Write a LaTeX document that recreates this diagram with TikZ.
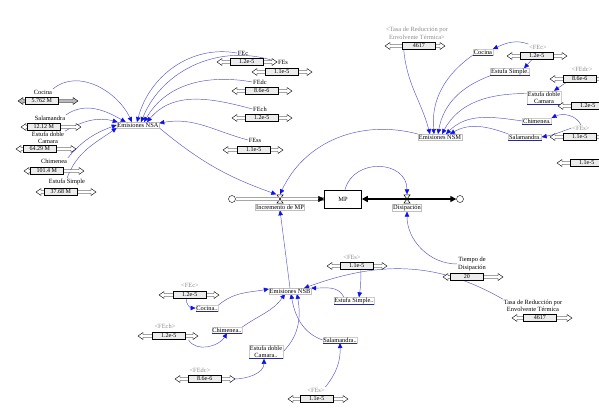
\documentclass[tikz,border=0pt]{standalone}
\usepackage{fontspec}
\setmainfont{Liberation Serif}
\usetikzlibrary{arrows.meta,positioning,backgrounds}
\definecolor{vlink}{RGB}{84,84,204}
\definecolor{vhead}{RGB}{16,16,232}
\definecolor{uline}{RGB}{40,40,150}
\definecolor{shadowgray}{RGB}{140,140,140}

% slider: [track fill]{name}{x}{y}{box offset}{value}
\newcommand{\vslider}[6][white]{%
  \begin{scope}[shift={(#3,#4)}]
    \draw[fill=#1,line width=0.4pt] (0,0) -- (5,3.5) -- (5,1.5) -- (55,1.5) -- (55,3.5)
      -- (60,0) -- (55,-3.5) -- (55,-1.5) -- (5,-1.5) -- (5,-3.5) -- cycle;
    \node[valbox,anchor=west] (#2) at (#5,0) {#6};
  \end{scope}}

\begin{document}
\begin{tikzpicture}[x=1pt,y=1pt,
    vfont/.style={font=\fontsize{6.4}{7.4}\selectfont},
    var/.style={vfont,inner sep=0.6pt,align=center},
    aux/.style={var,draw=gray!50,line width=0.3pt},
    svar/.style={var,draw=gray!40,line width=0.3pt,
      append after command={(\tikzlastnode.south west)
        edge[draw=uline,line width=0.7pt] (\tikzlastnode.south east)}},
    shadowv/.style={var,text=shadowgray},
    valbox/.style={font=\fontsize{6}{6}\selectfont,draw,fill=gray!15,line width=0.5pt,
      minimum width=33pt,minimum height=7pt,inner sep=0pt},
    link/.style={draw=vlink,line width=0.45pt,
      -{Triangle[length=5pt,width=4.5pt,color=vhead]}},
    pipe/.style={draw=gray!70,line width=0.5pt},
    outpipe/.style={line width=1.3pt,
      {Triangle[length=6pt,width=6pt]}-{Triangle[length=6pt,width=6pt]}},
    flowhead/.style={-{Triangle[length=6pt,width=6pt]},line width=0.4pt},
    cloudv/.style={circle,draw,minimum size=7pt,inner sep=0pt,line width=0.4pt},
    valve/.style={minimum width=7pt,minimum height=9pt,inner sep=0pt,
      path picture={\draw[line width=0.5pt]
        ([shift={(0.3pt,-0.3pt)}]path picture bounding box.north west)
        -- ([shift={(-0.3pt,-0.3pt)}]path picture bounding box.north east)
        -- ([shift={(0.3pt,0.3pt)}]path picture bounding box.south west)
        -- ([shift={(-0.3pt,0.3pt)}]path picture bounding box.south east) -- cycle;}},
    stock/.style={draw,vfont,minimum width=37pt,minimum height=18pt,line width=0.5pt}
  ]
  \useasboundingbox (0,0) rectangle (599,-418);
  \clip (0,0) rectangle (599,-418);

  % stock and flows
  \node[stock] (mp) at (343,-199) {MP};
  \node[cloudv] (srcL) at (232,-199) {};
  \node[cloudv] (sinkR) at (460,-199) {};
  \node[valve] (incv) at (280,-199) {};
  \node[valve] (disv) at (407,-199) {};
  \node[aux,below=0.6pt of incv] (incl) {Incremento de MP};
  \node[aux,below=0.6pt of disv] (disl) {Disipación};
  \draw[pipe] ([yshift=1.3]srcL.east) -- ([yshift=1.3]mp.west);
  \draw[pipe] ([yshift=-1.3]srcL.east) -- ([yshift=-1.3]mp.west);
  \draw[flowhead] ([xshift=-6]mp.west) -- (mp.west);

  % NSA
  \node[aux] (nsa) at (138,-125) {Emisiones NSA};
  \node[var] (cocA) at (43,-92) {Cocina};
  \vslider[gray!55]{cocAs}{18}{-101}{7}{5.762 M}
  \node[var] (salA) at (50,-118) {Salamandra};
  \vslider{salAs}{21}{-127}{6}{12.12 M}
  \node[var] (edbA) at (48,-138) {Estufa doble\\Camara};
  \vslider{edbAs}{16}{-149}{7}{64.29 M}
  \node[var] (chiA) at (54,-161) {Chimenea};
  \vslider{chiAs}{24}{-171}{6}{101.4 M}
  \node[var] (esiA) at (67,-182) {Estufa Simple};
  \vslider{esiAs}{36}{-192}{8}{37.68 M}
  \node[var] (fecA) at (243,-53) {FEc};
  \vslider{fecAs}{217}{-62}{13}{1.2e-5}
  \node[var] (fesA) at (283,-62) {FEs};
  \vslider{fesAs}{252}{-72}{13}{1.1e-5}
  \node[var] (fedA) at (260,-82) {FEdc};
  \vslider{fedAs}{232}{-91}{13}{8.6e-6}
  \node[var] (fehA) at (260,-109) {FEch};
  \vslider{fehAs}{232}{-118}{13}{1.2e-5}
  \node[var] (fessA) at (255,-140) {FEss};
  \vslider{fessAs}{223}{-150}{14}{1.1e-5}

  % NSM
  \node[aux] (nsm) at (440,-137) {Emisiones NSM};
  \node[shadowv] (tasaMl) at (417,-33.5) {<Tasa de Reducción por\\Envolvente Térmica>};
  \vslider{tasaMs}{385}{-46}{17}{4617}
  \node[svar] (cocM) at (483,-52) {Cocina};
  \node[shadowv] (fecMl) at (538,-47) {<FEc>};
  \vslider{fecMs}{507}{-56}{13}{1.2e-5}
  \node[svar] (esiM) at (510,-72) {Estufa Simple.};
  \node[shadowv] (f2Ml) at (582,-69) {<FEdc>};
  \vslider{f2Ms}{550}{-79}{13}{8.6e-6}
  \node[svar] (edbM) at (544,-97.5) {Estufa doble\\Camara};
  \vslider{f3Ms}{558}{-106}{13}{1.2e-5}
  \node[svar] (chiM) at (537,-121) {Chimenea.};
  \node[shadowv] (f4Ml) at (581,-128) {<FEs>};
  \vslider{f4Ms}{550}{-137}{13}{1.1e-5}
  \node[svar] (salM) at (525,-137) {Salamandra.};
  \vslider{f5Ms}{557}{-163}{13}{1.1e-5}

  % NSB
  \node[aux] (nsb) at (290,-291) {Emisiones NSB};
  \node[shadowv] (fecBl) at (190,-285) {<FEc>};
  \vslider{fecBs}{159}{-295}{14}{1.2e-5}
  \node[svar] (cocB) at (207,-308) {Cocina..};
  \node[shadowv] (fehBl) at (165,-326) {<FEch>};
  \vslider{fehBs}{138}{-336}{14}{1.2e-5}
  \node[svar] (chiB) at (227,-330) {Chimenea..};
  \node[svar] (edbB) at (266,-352) {Estufa doble\\Camara..};
  \node[shadowv] (fedBl) at (200,-370) {<FEdc>};
  \vslider{fedBs}{175}{-379}{13}{8.6e-6}
  \node[svar] (salB) at (340,-340) {Salamandra..};
  \node[shadowv] (fesBl) at (316,-390) {<FEs>};
  \vslider{fesBs}{288}{-399}{12}{1.1e-5}
  \node[shadowv] (fesTl) at (352,-257) {<FEs>};
  \vslider{fesTs}{327}{-266}{13}{1.1e-5}
  \node[svar] (esiB) at (354,-301) {Estufa Simple..};
  \node[var] (tiem) at (472,-264) {Tiempo de\\Disipación};
  \vslider{tiems}{443}{-277}{7}{20}
  \node[var] (tasaB) at (533,-306) {Tasa de Reducción por\\Envolvente Térmica};
  \vslider{tasaBs}{512}{-318}{11}{4617}

  \begin{scope}[on background layer]
    % outflow pipe and MP loop
    \draw[outpipe] (mp.east) -- (sinkR);
    \draw[link] ([xshift=2]mp.north) to[out=75,in=90,looseness=1.4] (disv.north);
    \draw[link] (tiem.west) to[out=180,in=-90] (disl.south);

    % into Emisiones NSA
    \draw[link] (cocA.north east) to[out=40,in=115] ([xshift=-6]nsa.north);
    \draw[link] (salA.north east) to[out=35,in=150] ([xshift=9]nsa.north west);
    \draw[link] (edbA.north east) to[out=30,in=165] ([xshift=1]nsa.north west);
    \draw[link] (chiA.north east) to[out=50,in=200] (nsa.west);
    \draw[link] (esiA.north) to[out=70,in=215] (nsa.south west);
    \draw[link] (fecA.west) to[out=170,in=75] ([xshift=-1]nsa.north);
    \draw[link] (fesA.west) to[out=160,in=68] ([xshift=3]nsa.north);
    \draw[link] (fedA.west) to[out=170,in=60] ([xshift=6]nsa.north);
    \draw[link] (fehA.west) to[out=165,in=50] ([xshift=9]nsa.north);
    \draw[link] (fessA.west) to[out=165,in=10] ([yshift=-1]nsa.north east);

    % into Emisiones NSM
    \draw[link] ([xshift=-15]tasaMs.south) to[out=-85,in=105] ([xshift=-10]nsm.north);
    \draw[link] (cocM.south west) to[out=215,in=95] ([xshift=-6]nsm.north);
    \draw[link] (esiM.south west) to[out=200,in=80] ([xshift=-2]nsm.north);
    \draw[link] ([yshift=4]edbM.west) to[out=180,in=62] ([xshift=2]nsm.north);
    \draw[link] (chiM.west) to[out=172,in=45] ([xshift=6]nsm.north);
    \draw[link] (salM.north west) to[out=160,in=30] ([xshift=10]nsm.north);
    \draw[link] (fecMl.north west) to[out=160,in=25] (cocM.north east);
    \draw[link] ([xshift=-5]fecMs.south) -- ([xshift=14]esiM.north);
    \draw[link] ([xshift=-14]f2Ms.south) -- ([xshift=10]edbM.north);
    \draw[link] (f4Ml.north) to[out=115,in=25] (chiM.north east);
    \draw[link] (f4Ml.west) to[out=200,in=10] (salM.east);

    % into Emisiones NSB
    \draw[link] ([xshift=-3]fecBs.south) to[out=-110,in=180] (cocB.west);
    \draw[link] (cocB.north east) to[out=40,in=190] ([yshift=2]nsb.west);
    \draw[link] ([xshift=3]fehBs.south east) to[out=-60,in=-120] (chiB.south);
    \draw[link] (chiB.north east) to[out=35,in=-125] ([xshift=-5]nsb.south);
    \draw[link] ([xshift=12]fedBs.east) to[out=0,in=-90] ([xshift=-2]edbB.south);
    \draw[link] (edbB.east) to[out=45,in=-80] ([xshift=7]nsb.south);
    \draw[link] (salB.west) to[out=160,in=-80] ([xshift=1]nsb.south);
    \draw[link] (fesBl.north east) to[bend right=20] (salB.south);
    \draw[link] ([xshift=4]fesTs.south) to[bend left=5] ([xshift=5]esiB.north);
    \draw[link] ([xshift=-10]esiB.north) to[out=115,in=0] (nsb.north east);
    \draw[link] (tasaB.north west) to[out=150,in=20] ([xshift=-7]nsb.north east);

    % into Incremento de MP
    \draw[link] (nsa.south east) to[bend right=10] (incv.north west);
    \draw[link] (nsm.north west) to[out=165,in=65] (incv.north);
    \draw[link] (nsb.north) -- (incl.south);
  \end{scope}
\end{tikzpicture}
\end{document}
